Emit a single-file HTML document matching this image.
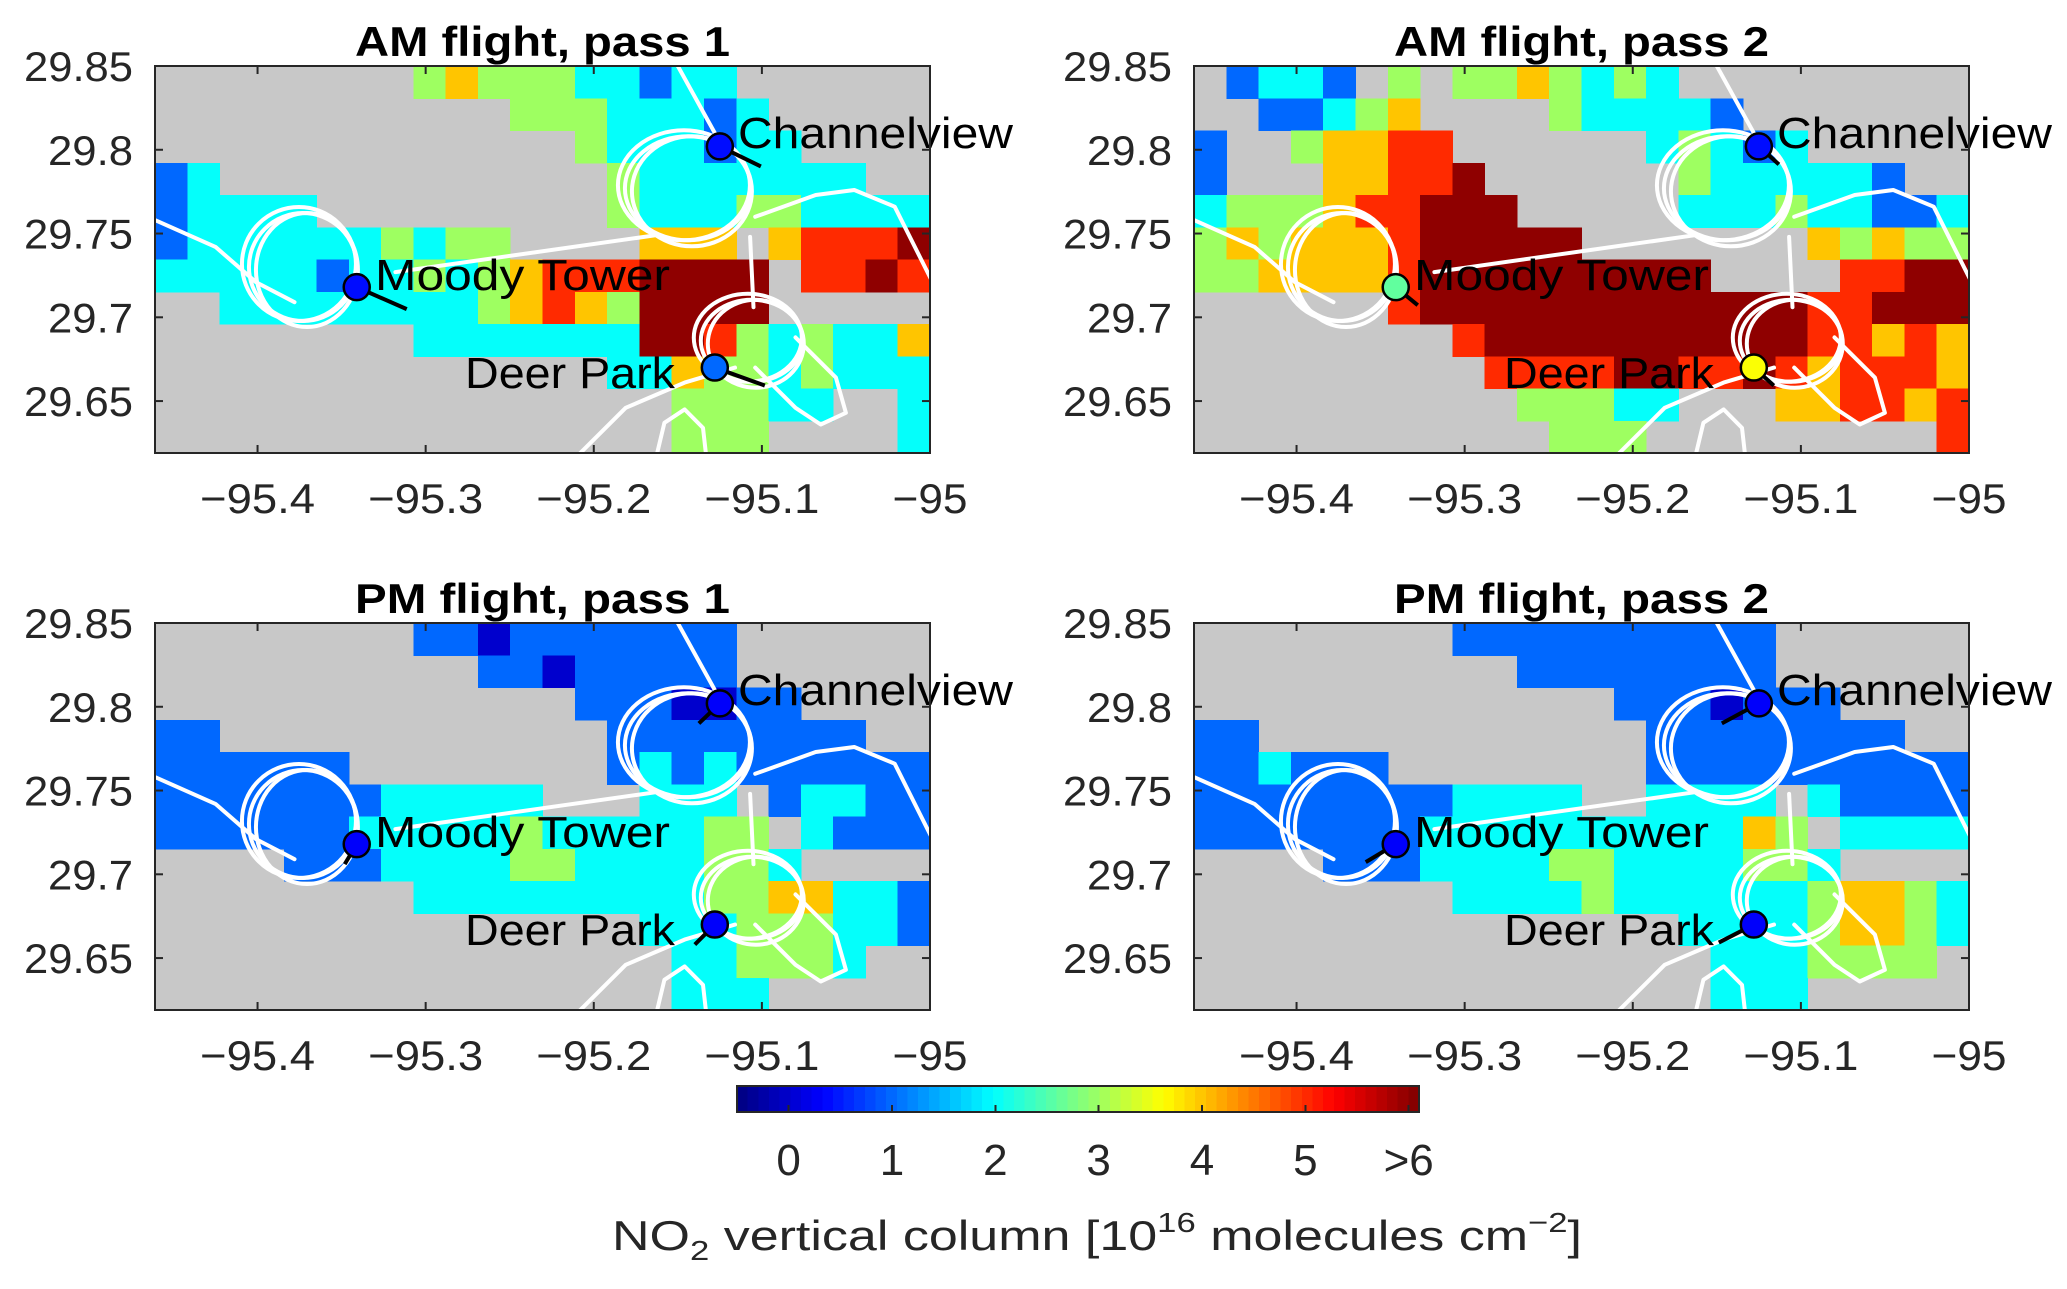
<!DOCTYPE html>
<html><head><meta charset="utf-8">
<style>
html,body{margin:0;padding:0;background:#fff;}
svg{display:block;font-family:"Liberation Sans",sans-serif;}
</style></head>
<body>
<svg id="fig" width="2067" height="1289" viewBox="0 0 2067 1289" xmlns="http://www.w3.org/2000/svg"></svg>
<script>
// ---------- data ----------
const panelTitles = ["AM flight, pass 1","AM flight, pass 2","PM flight, pass 1","PM flight, pass 2"];
const xTicks = [-95.4,-95.3,-95.2,-95.1,-95];
const xTickLabels = ["\u221295.4","\u221295.3","\u221295.2","\u221295.1","\u221295"];
const yTicks = [29.65,29.7,29.75,29.8,29.85];
const yTickLabels = ["29.65","29.7","29.75","29.8","29.85"];
const cbTicks = [0,1,2,3,4,5,6];
const cbTickLabels = ["0","1","2","3","4","5",">6"];
const siteNames = ["Channelview","Moody Tower","Deer Park"];
const siteLon = [-95.125,-95.341,-95.128];
const siteLat = [29.802,29.718,29.670];
// NO2 at sites per panel
const siteValues = [[0.4,0.4,1.0],[0.4,2.6,3.6],[0.3,0.3,0.3],[0.3,0.3,0.3]];
// wind tick offsets (px) per panel per site
const windDx = [[41,50,50],[20,22,20],[-21,-12,-20],[-37,-30,-35]];
const windDy = [[20,22,18],[18,18,18],[20,20,20],[20,18,18]];
// gridded NO2 column ('.' = no data), 24 cols x 12 rows, north to south
const gridAM1 = [
"........3433322122......",
"...........33322212.....",
".............3222122....",
"12............32222222..",
"12222.........3222332222",
"12222223233....444.45556",
"2222212232345556666.5565",
"..22222222345436666.....",
"........2222222665323224",
"..............2243323222",
"................33322..2",
"................333....2"];
const gridAM2 = [
".1221.3.3343232.........",
"..11234....322221.......",
"1..34455......23212.....",
"1...44556......3222221..",
"2333455666.....222322112",
"343444566666.......43433",
"3344445666666666....5566",
"......566666666666655666",
"........5666666666655454",
".........555566556545554",
"..........33322...445545",
"...........333.........5"];
const gridPM1 = [
"........1101111111......",
"..........11011111......",
".............1110011....",
"11............11111111..",
"111111........1212111111",
"111111122222...222.12211",
"1111112222232222233.2111",
"....1112222332222332....",
"........2222222223344221",
"...............222333221",
"................223332..",
"................222....."];
const gridPM2 = [
"........1111111111......",
"..........11111111......",
".............1110111....",
"11............11111111..",
"112111........1111111111",
"111111112222..2222.21111",
"1111111222222222243.2222",
"....1112222332222332....",
"........2222322222234432",
"...............222234432",
"................2223333.",
"................222....."];
const grids = [gridAM1,gridAM2,gridPM1,gridPM2];
// flight track waypoints (lon/lat)
const trackWestLon = [-95.461,-95.425,-95.401,-95.378];
const trackWestLat = [29.758,29.742,29.721,29.709];
const trackLinkLon = [-95.318,-95.163];
const trackLinkLat = [29.727,29.749];
const trackEastLon = [-95.104,-95.068,-95.045,-95.021,-95.006,-94.997];
const trackEastLat = [29.760,29.773,29.776,29.766,29.736,29.718];
const trackNorthLon = [-95.150,-95.128];
const trackNorthLat = [29.85,29.810];
const trackMidLon = [-95.107,-95.105];
const trackMidLat = [29.748,29.706];
const trackSWLon = [-95.211,-95.181,-95.146,-95.116];
const trackSWLat = [29.616,29.646,29.661,29.670];
const trackLoopLon = [-95.163,-95.158,-95.146,-95.135,-95.133];
const trackLoopLat = [29.616,29.637,29.645,29.634,29.616];
const trackSELon = [-95.104,-95.080,-95.065,-95.050,-95.056,-95.080];
const trackSELat = [29.670,29.646,29.636,29.643,29.664,29.688];
// orbit circles: center lon, lat, radius px
const orbitLon = [-95.373,-95.144,-95.106];
const orbitLat = [29.730,29.777,29.686];
const orbitRx = [57,66,54];
const orbitRy = [57,55,44];

// ---------- layout ----------
const NS="http://www.w3.org/2000/svg";
const svg=document.getElementById('fig');
const origins=[[155,66],[1194,66],[155,623],[1194,623]];
const PW=775, PH=387;
const LON0=-95.461, LON1=-95.0, LAT0=29.619, LAT1=29.85;
function el(tag,attrs,parent){const e=document.createElementNS(NS,tag);for(const k in attrs)e.setAttribute(k,attrs[k]);(parent||svg).appendChild(e);return e;}
function jet(v){let t=(v-(-0.5))/6.6;t=Math.max(0,Math.min(1,t));
 const c=x=>Math.round(255*Math.max(0,Math.min(1,1.5-Math.abs(x))));
 return `rgb(${c(4*t-3)},${c(4*t-2)},${c(4*t-1)})`;}

origins.forEach((o,p)=>{
 const sx=lon=>o[0]+(lon-LON0)/(LON1-LON0)*PW;
 const sy=lat=>o[1]+(LAT1-lat)/(LAT1-LAT0)*PH;
 const g=el('g',{});
 
 
 const cp=el('clipPath',{id:'clip'+p},g);
 el('rect',{x:o[0],y:o[1],width:PW,height:PH},cp);
 const bg=el('rect',{x:o[0],y:o[1],width:PW,height:PH,fill:'#c8c8c8'},g);
 
 
 const cells=el('g',{'clip-path':`url(#clip${p})`,'shape-rendering':'crispEdges'},g);
 
 
 const grid=grids[p];
 const nr=grid.length, nc=24;
 grid.forEach((row,r)=>{
  for(let c=0;c<nc;c++){
   const ch=row[c]; if(!ch||ch==='.')continue;
   const v=+ch;
   const la=LAT1-(LAT1-LAT0)*r/nr, lb=LAT1-(LAT1-LAT0)*(r+1)/nr;
   const lo=LON0+(LON1-LON0)*c/nc, lo2=LON0+(LON1-LON0)*(c+1)/nc;
   const x=sx(lo),y=sy(la);
   const rc=el('rect',{x:x,y:y,width:sx(lo2)-x+0.5,height:sy(lb)-y+0.5,fill:jet(v)},cells);
   
   
  }
 });
 const tg=el('g',{'clip-path':`url(#clip${p})`,fill:'none',stroke:'#fff','stroke-width':4,'stroke-linecap':'round','stroke-linejoin':'round'},g);
 
 
 const tracks=[[trackWestLon,trackWestLat],[trackLinkLon,trackLinkLat],[trackEastLon,trackEastLat],[trackNorthLon,trackNorthLat],[trackMidLon,trackMidLat],[trackSWLon,trackSWLat],[trackLoopLon,trackLoopLat],[trackSELon,trackSELat]];
 tracks.forEach(([lo,la])=>{
  const d=lo.map((v,i)=>(i?'L':'M')+sx(v).toFixed(1)+','+sy(la[i]).toFixed(1)).join(' ');
  const pth=el('path',{d:d},tg);
  
  
 });
 orbitLon.forEach((lo,i)=>{
  for(let k=0;k<3;k++){
   const e=el('ellipse',{cx:sx(lo)+(k-1)*4,cy:sy(orbitLat[i])+(k-1)*3,rx:orbitRx[i]-k*3,ry:orbitRy[i]-(k%2)*3},tg);
   
   
  }
 });
 siteNames.forEach((n,i)=>{
  const cx=sx(siteLon[i]),cy=sy(siteLat[i]);
  const ln=el('line',{x1:cx,y1:cy,x2:cx+windDx[p][i],y2:cy+windDy[p][i],stroke:'#000','stroke-width':4},g);
  
  
  const dot=el('circle',{cx:cx,cy:cy,r:13,fill:jet(siteValues[p][i]),stroke:'#000','stroke-width':2.5},g);
  
  
 });
 const lbl=[[583,82,275],[220,224,295],[310,322,210]];
 siteNames.forEach((n,i)=>{
  const t=el('text',{x:o[0]+lbl[i][0],y:o[1]+lbl[i][1],'font-size':44,fill:'#000',textLength:lbl[i][2],lengthAdjust:'spacingAndGlyphs'},g);
  t.textContent=n;
  
  
 });
 const box=el('rect',{x:o[0],y:o[1],width:PW,height:PH,fill:'none',stroke:'#262626','stroke-width':2},g);
 
 
 xTicks.forEach((v,i)=>{
  const x=sx(v);
  el('line',{x1:x,y1:o[1]+PH,x2:x,y2:o[1]+PH-8,stroke:'#262626','stroke-width':2},g);
  el('line',{x1:x,y1:o[1],x2:x,y2:o[1]+8,stroke:'#262626','stroke-width':2},g);
  const t=el('text',{x:x,y:o[1]+PH+60,'font-size':42,fill:'#262626','text-anchor':'middle',textLength:(i===4?75:115),lengthAdjust:'spacingAndGlyphs'},g);
  t.textContent=xTickLabels[i];
  
  
 });
 yTicks.forEach((v,i)=>{
  const y=sy(v);
  el('line',{x1:o[0],y1:y,x2:o[0]+8,y2:y,stroke:'#262626','stroke-width':2},g);
  el('line',{x1:o[0]+PW,y1:y,x2:o[0]+PW-8,y2:y,stroke:'#262626','stroke-width':2},g);
  const L=yTickLabels[i].length;
  const t=el('text',{x:o[0]-22,y:y+15,'font-size':42,fill:'#262626','text-anchor':'end',textLength:(L===5?109:85),lengthAdjust:'spacingAndGlyphs'},g);
  t.textContent=yTickLabels[i];
  
  
 });
 const tt=el('text',{x:o[0]+PW/2,y:o[1]-10,'font-size':42,'font-weight':'bold',fill:'#000','text-anchor':'middle',textLength:375,lengthAdjust:'spacingAndGlyphs'},g);
 tt.textContent=panelTitles[p];
 
 
});

// ---------- colorbar ----------
const CB={x0:737,x1:1419,y0:1086,y1:1112,vmin:-0.5,vmax:6.1};
const cx=v=>CB.x0+(v-CB.vmin)/(CB.vmax-CB.vmin)*(CB.x1-CB.x0);
const cb=el('g',{'shape-rendering':'crispEdges'});


const N=64;
for(let i=0;i<N;i++){
 const v0=CB.vmin+(CB.vmax-CB.vmin)*i/N, v1=CB.vmin+(CB.vmax-CB.vmin)*(i+1)/N;
 el('rect',{x:cx(v0),y:CB.y0,width:cx(v1)-cx(v0)+0.6,height:CB.y1-CB.y0,fill:jet((v0+v1)/2)},cb);
}
el('rect',{x:CB.x0,y:CB.y0,width:CB.x1-CB.x0,height:CB.y1-CB.y0,fill:'none',stroke:'#262626','stroke-width':2},cb);
cbTicks.forEach((v,i)=>{
 const x=cx(v);
 el('line',{x1:x,y1:CB.y1,x2:x,y2:CB.y1-7,stroke:'#262626','stroke-width':2},cb);
 const t=el('text',{x:x,y:1175,'font-size':44,fill:'#262626','text-anchor':'middle'},cb);
 t.textContent=cbTickLabels[i];
 
 
});
</script>
<svg width="2067" height="1289" style="position:absolute;left:0;top:0;font-family:'Liberation Sans',sans-serif">
<text x="612" y="1250" font-size="42" fill="#262626" textLength="970" lengthAdjust="spacingAndGlyphs">NO<tspan dy="10" font-size="28">2</tspan><tspan dy="-10"> vertical column [10</tspan><tspan dy="-18" font-size="28">16</tspan><tspan dy="18"> molecules  cm</tspan><tspan dy="-18" font-size="28">−2</tspan><tspan dy="18">]</tspan></text>
</svg>
</body></html>
